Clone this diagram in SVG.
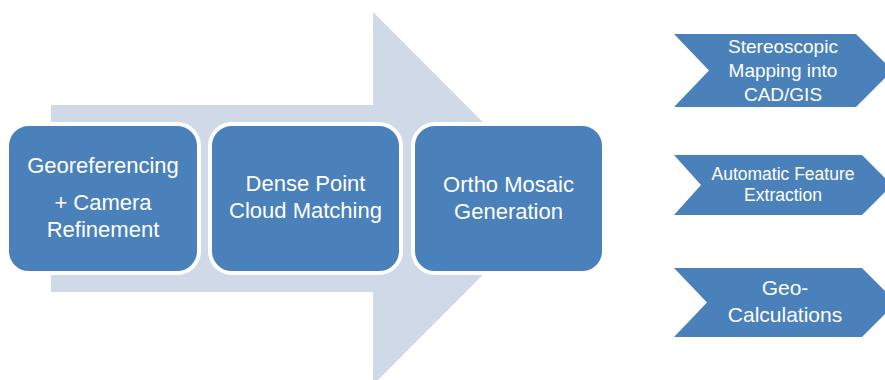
<svg xmlns="http://www.w3.org/2000/svg" width="885" height="380" viewBox="0 0 885 380">
<style>
.box{fill:#4A81BA;stroke:#FFFFFF;stroke-width:4}
.chev{fill:#4A81BA}
text{font-family:"Liberation Sans",Arial,sans-serif;fill:#FFFFFF;text-anchor:middle}
.t22{font-size:22px}
.t19{font-size:19px}
.t17{font-size:17.5px}
.t21{font-size:21px}
</style>
<rect width="885" height="380" fill="#FFFFFF"/>
<g id="bigArrow">
<polygon points="51,105 373,105 373,12 559,198.5 373,385 373,292 51,292" fill="#CFD9E7"/>
</g>
<g id="connectors"></g>
<g id="node1">
<rect class="box" x="7" y="124" width="192" height="149" rx="22"/>
<text class="t22" x="103" y="173">Georeferencing</text>
<text class="t22" x="103" y="210">+ Camera</text>
<text class="t22" x="103" y="237">Refinement</text>
</g>
<g id="node2">
<rect class="box" x="210" y="124" width="191" height="149" rx="22"/>
<text class="t22" x="305.5" y="191">Dense Point</text>
<text class="t22" x="305.5" y="218">Cloud Matching</text>
</g>
<g id="node3">
<rect class="box" x="413" y="124" width="191" height="149" rx="22"/>
<text class="t22" x="508.5" y="192">Ortho Mosaic</text>
<text class="t22" x="508.5" y="219">Generation</text>
</g>
<g id="chev1">
<polygon class="chev" points="674,34 856,34 892.5,70.5 856,107 674,107 709,70.5"/>
<text class="t19" x="783" y="53">Stereoscopic</text>
<text class="t19" x="783" y="77">Mapping into</text>
<text class="t19" x="783" y="101">CAD/GIS</text>
</g>
<g id="chev2">
<polygon class="chev" points="674,155 862,155 892,185 862,215 674,215 701,185"/>
<text class="t17" x="783" y="180">Automatic Feature</text>
<text class="t17" x="783" y="201">Extraction</text>
</g>
<g id="chev3">
<polygon class="chev" points="674,268 862,268 896.5,302.5 862,337 674,337 707,302.5"/>
<text class="t21" x="785" y="295">Geo-</text>
<text class="t21" x="785" y="322">Calculations</text>
</g>
</svg>
